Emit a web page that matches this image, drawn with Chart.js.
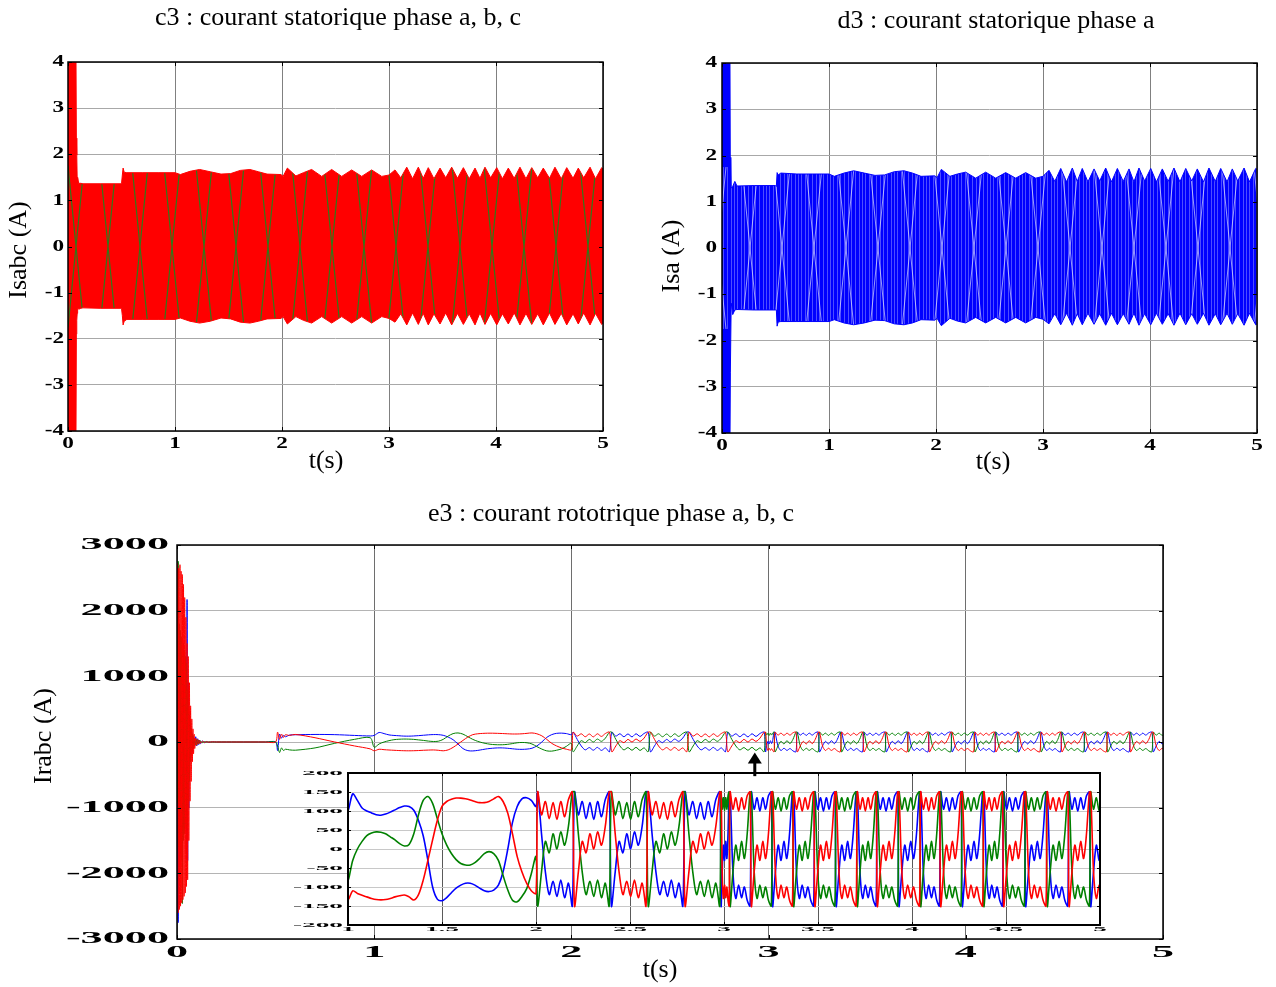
<!DOCTYPE html>
<html>
<head>
<meta charset="utf-8">
<title>Courants statoriques et rotoriques</title>
<script src="https://cdn.jsdelivr.net/npm/chart.js@4.4.1/dist/chart.umd.min.js"></script>
<style>
  html, body { margin: 0; padding: 0; background: #fff; overflow: hidden; }
  canvas { position: absolute; left: 0; top: 0; }
</style>
</head>
<body>
<canvas id="c3" width="1276" height="987"></canvas>
<canvas id="d3" width="1276" height="987"></canvas>
<canvas id="e3" width="1276" height="987"></canvas>
<canvas id="e3zoom" width="1276" height="987"></canvas>
<script>
const W = 1276, H = 987;
const SERIF = "'Liberation Serif', 'Times New Roman', serif";
Chart.defaults.font.family = SERIF;
Chart.defaults.color = '#000';

const BLUE = '#0000ff', GREEN = '#008000', RED = '#ff0000';

// ---- stator current: peak envelope of the dense 50 Hz band (A)
const tEnv = [
  0, 0.074, 0.078, 0.082, 0.086, 0.09, 0.1, 0.12, 0.14, 0.3,
  0.5, 0.508, 0.515, 0.525, 0.55, 0.7, 0.85, 1.0, 1.05, 1.14,
  1.23, 1.33, 1.43, 1.52, 1.61, 1.70, 1.78, 1.86, 1.99, 2.01,
  2.05, 2.13, 2.2, 2.277, 2.371, 2.464, 2.558, 2.651, 2.745, 2.838,
  2.932, 3.0, 3.056, 3.11, 3.166, 3.22, 3.274, 3.32, 3.367, 3.42,
  3.477, 3.53, 3.586, 3.64, 3.695, 3.75, 3.804, 3.85, 3.897, 3.95,
  4.007, 4.06, 4.115, 4.17, 4.224, 4.28, 4.334, 4.39, 4.442, 4.50,
  4.551, 4.61, 4.661, 4.72, 4.769, 4.82, 4.879, 4.93, 4.988, 5.0
];
// phases a, b, c together
const isabcTop = [
  4.5, 4.5, 2.35, 1.98, 1.44, 1.5, 1.37, 1.37, 1.36, 1.36,
  1.36, 1.55, 1.70, 1.61, 1.60, 1.60, 1.60, 1.60, 1.56, 1.63,
  1.67, 1.62, 1.57, 1.58, 1.65, 1.67, 1.62, 1.57, 1.56, 1.52,
  1.70, 1.53, 1.60, 1.67, 1.52, 1.67, 1.52, 1.66, 1.52, 1.66,
  1.52, 1.55, 1.66, 1.49, 1.72, 1.47, 1.72, 1.48, 1.71, 1.47,
  1.70, 1.49, 1.72, 1.48, 1.71, 1.47, 1.70, 1.48, 1.72, 1.49,
  1.71, 1.47, 1.70, 1.48, 1.72, 1.47, 1.71, 1.49, 1.70, 1.48,
  1.72, 1.47, 1.71, 1.48, 1.70, 1.49, 1.72, 1.47, 1.71, 1.68
];
const isabcBottom = [
  -4.5, -4.5, -1.9, -1.6, -1.45, -1.33, -1.36, -1.34, -1.33, -1.34,
  -1.34, -1.50, -1.70, -1.62, -1.58, -1.58, -1.58, -1.58, -1.55, -1.62,
  -1.66, -1.62, -1.55, -1.57, -1.64, -1.66, -1.62, -1.57, -1.56, -1.52,
  -1.68, -1.52, -1.60, -1.66, -1.52, -1.66, -1.52, -1.66, -1.52, -1.66,
  -1.52, -1.56, -1.64, -1.46, -1.70, -1.44, -1.69, -1.45, -1.70, -1.46,
  -1.68, -1.44, -1.70, -1.45, -1.69, -1.46, -1.70, -1.44, -1.69, -1.45,
  -1.70, -1.46, -1.68, -1.44, -1.70, -1.45, -1.69, -1.46, -1.70, -1.44,
  -1.69, -1.45, -1.70, -1.46, -1.68, -1.44, -1.70, -1.45, -1.69, -1.66
];
// phase a alone
const isaTop = [
  4.5, 4.5, 1.30, 1.96, 1.30, 1.31, 1.33, 1.44, 1.34, 1.35,
  1.35, 1.33, 1.63, 1.58, 1.62, 1.60, 1.60, 1.60, 1.55, 1.62,
  1.67, 1.62, 1.57, 1.58, 1.65, 1.67, 1.62, 1.55, 1.56, 1.52,
  1.70, 1.55, 1.60, 1.64, 1.51, 1.64, 1.51, 1.63, 1.51, 1.63,
  1.51, 1.55, 1.68, 1.44, 1.72, 1.43, 1.73, 1.44, 1.72, 1.43,
  1.71, 1.45, 1.73, 1.43, 1.72, 1.44, 1.71, 1.43, 1.73, 1.45,
  1.72, 1.43, 1.71, 1.44, 1.73, 1.43, 1.72, 1.45, 1.71, 1.43,
  1.73, 1.44, 1.72, 1.43, 1.71, 1.45, 1.73, 1.43, 1.72, 1.70
];
const isaBottom = [
  -4.5, -4.5, -2.7, -2.7, -1.2, -1.25, -1.44, -1.34, -1.33, -1.34,
  -1.34, -1.34, -1.69, -1.60, -1.59, -1.59, -1.59, -1.59, -1.55, -1.62,
  -1.66, -1.62, -1.56, -1.57, -1.64, -1.66, -1.62, -1.55, -1.56, -1.52,
  -1.68, -1.52, -1.58, -1.62, -1.50, -1.62, -1.50, -1.62, -1.50, -1.62,
  -1.50, -1.54, -1.64, -1.42, -1.66, -1.41, -1.67, -1.42, -1.66, -1.41,
  -1.65, -1.42, -1.67, -1.41, -1.66, -1.42, -1.65, -1.41, -1.67, -1.42,
  -1.66, -1.41, -1.65, -1.42, -1.67, -1.41, -1.66, -1.42, -1.65, -1.41,
  -1.67, -1.42, -1.66, -1.41, -1.65, -1.42, -1.67, -1.41, -1.66, -1.64
];
const statorYTicks = [4, 3, 2, 1, 0, -1, -2, -3, -4];
const statorXTicks = [0, 1, 2, 3, 4, 5];

// ---- rotor current (A): start-up burst
const tBurst = [
  0, 0.003, 0.006, 0.009, 0.012, 0.015, 0.018, 0.021, 0.024, 0.027,
  0.030, 0.033, 0.036, 0.039, 0.042, 0.045, 0.048, 0.051, 0.054, 0.057,
  0.060, 0.063, 0.066, 0.069, 0.072, 0.075, 0.078, 0.081, 0.084, 0.087,
  0.090, 0.095, 0.1, 0.105, 0.11, 0.115, 0.12, 0.13, 0.14, 0.15,
  0.16, 0.18, 0.2, 0.3, 0.45
];
const irABurst = [
  0, 600, -2750, 900, -1900, 1100, -1700, 1300, -1500, 1400,
  -1400, 1500, -1300, 1400, -1200, 1300, -1800, 2170, -1800, 900,
  -1000, 400, -300, 250, -200, 150, -150, 100, -90, 60,
  -50, 80, -60, 50, -40, 30, -25, 15, -10, 8,
  -5, 3, 0, 0, 0
];
const irBBurst = [
  0, -900, 2750, -1600, 1800, -1700, 1700, -1800, 1600, -2460,
  1500, -1500, 1400, -1400, 1300, -1300, 1200, -1300, 800, -900,
  500, -600, 350, -300, 200, -150, 120, -100, 80, -60,
  40, -50, 40, -35, 30, -20, 15, -10, 7, -4,
  2, -1, 0, 0, 0
];
const irCBurst = [
  0, 2700, -2600, 2650, -2550, 2700, -2500, 2600, -2450, 2550,
  -2400, 2400, -2350, 2200, -2300, 1900, -2200, 1500, -2100, 1300,
  -1500, 900, -900, 550, -600, 350, -300, 200, -180, 120,
  -100, 60, -50, 40, -30, 25, -18, 12, -8, 5,
  -3, 2, 0, 0, 0
];

// rotor current from the 0.5 s step up to 2 s
const tRotor = [
  0.5, 0.51, 0.52, 0.53, 0.54, 0.55, 0.57, 0.6, 0.7, 0.8, 0.9, 0.98,
  1.000, 1.025, 1.050, 1.075, 1.100, 1.125, 1.150, 1.175, 1.200, 1.225,
  1.250, 1.275, 1.300, 1.325, 1.350, 1.375, 1.400, 1.425, 1.450, 1.475,
  1.500, 1.525, 1.550, 1.575, 1.600, 1.625, 1.650, 1.675, 1.700, 1.725,
  1.750, 1.775, 1.800, 1.825, 1.850, 1.875, 1.900, 1.925, 1.950, 1.975, 2.000
];
const irA = [
  0, -130, 120, 60, 100, 80, 105, 110, 115, 112, 100, 92,
  100, 145, 128, 108, 100, 95, 90, 89, 92, 97,
  103, 109, 113, 112, 102, 75, 35, -30, -100, -132,
  -136, -128, -115, -103, -95, -90, -90, -95, -103, -110,
  -112, -108, -95, -60, 0, 70, 112, 132, 135, 128, 112
];
const irB = [
  0, -60, -160, -90, -130, -110, -120, -125, -90, -20, 40, 65,
  -80, -30, 0, 20, 35, 42, 45, 44, 40, 32,
  24, 14, 8, 12, 40, 90, 128, 138, 120, 80,
  40, 10, -12, -28, -38, -42, -42, -36, -25, -12,
  -7, -12, -30, -70, -108, -135, -139, -125, -105, -65, -20
];
const irC = [
  0, 150, 40, 120, 70, 110, 100, 115, 65, 0, -60, -105,
  -134, -110, -117, -122, -126, -130, -133, -134, -133, -130,
  -126, -123, -121, -126, -134, -120, -82, -30, 24, 75,
  112, 125, 131, 134, 134, 132, 129, 125, 122, 122,
  125, 132, 138, 125, 94, 40, -20, -60, -90, -110, -117
];

// after 2 s: instants where the three phases switch together
const rotorCuts = [
  2.003, 2.199, 2.395, 2.591, 2.787, 2.983, 3.029, 3.142, 3.255, 3.367,
  3.480, 3.593, 3.706, 3.812, 3.927, 4.043, 4.149, 4.264, 4.379, 4.484,
  4.601, 4.716, 4.832, 4.947, 5.06
];
const slowCount = 5; // first intervals (2 s .. 3 s) are the long ones
// wave shape between two switches: upper level, middle level, lower level
const slowTop    = [150, 90, 125, 80, 122, 78, 125, 85, 130, 150];
const slowMid    = [-150, -60, 20, -10, 40, 0, 45, 10, 60, 150];
const slowBottom = [150, 40, -60, -120, -85, -125, -82, -128, -90, -150];
const fastTop    = [150, 105, 135, 100, 135, 105, 140, 150];
const fastMid    = [-150, -60, 10, -30, 20, -25, 40, 150];
const fastBottom = [150, -60, -130, -95, -128, -100, -135, -150];

const rotorYTicks = [3000, 2000, 1000, 0, -1000, -2000, -3000];
const rotorXTicks = [0, 1, 2, 3, 4, 5];
const zoomYTicks = [200, 150, 100, 50, 0, -50, -100, -150, -200];
const zoomXTicks = [1, 1.5, 2, 2.5, 3, 3.5, 4, 4.5, 5];

function rotorPhase(burst, early, shift) {
  const pts = [];
  tBurst.forEach((t, i) => pts.push({x: t, y: burst[i]}));
  tRotor.forEach((t, i) => pts.push({x: t, y: early[i]}));
  for (let k = 0; k < rotorCuts.length - 1; k++) {
    const s = rotorCuts[k], e = rotorCuts[k + 1];
    const set = k < slowCount ? [slowTop, slowMid, slowBottom] : [fastTop, fastMid, fastBottom];
    const shape = set[(k + shift) % 3];
    shape.forEach((v, j) => {
      pts.push({x: s + (e - s) * (0.03 + 0.94 * j / (shape.length - 1)), y: v});
    });
  }
  return pts;
}
const rotorA = rotorPhase(irABurst, irA, 2);
const rotorB = rotorPhase(irBBurst, irB, 1);
const rotorC = rotorPhase(irCBurst, irC, 0);

// ---- plugins
const frameBox = {
  id: 'frameBox',
  afterDraw(chart, args, o) {
    const {ctx, chartArea: a, scales: {x, y}} = chart;
    const len = o.tick || 4;
    ctx.save();
    ctx.strokeStyle = '#000';
    ctx.lineWidth = 1;
    ctx.beginPath();
    x.ticks.forEach(t => {
      const px = Math.round(x.getPixelForValue(t.value)) + 0.5;
      ctx.moveTo(px, a.bottom); ctx.lineTo(px, a.bottom - len);
      ctx.moveTo(px, a.top); ctx.lineTo(px, a.top + len);
    });
    y.ticks.forEach(t => {
      const py = Math.round(y.getPixelForValue(t.value)) + 0.5;
      ctx.moveTo(a.left, py); ctx.lineTo(a.left + len, py);
      ctx.moveTo(a.right, py); ctx.lineTo(a.right - len, py);
    });
    ctx.stroke();
    ctx.lineWidth = o.width || 1.5;
    ctx.strokeRect(a.left, a.top, a.right - a.left, a.bottom - a.top);
    ctx.restore();
  }
};

function captions(items) {
  return {
    id: 'captions',
    afterDraw(chart) {
      const ctx = chart.ctx;
      ctx.save();
      ctx.fillStyle = '#000';
      ctx.textAlign = 'center';
      ctx.textBaseline = 'middle';
      items.forEach(it => {
        ctx.save();
        ctx.translate(it.x, it.y);
        if (it.rotate) ctx.rotate(it.rotate);
        ctx.font = '26px ' + SERIF;
        ctx.fillText(it.text, 0, 0);
        ctx.restore();
      });
      ctx.restore();
    }
  };
}

// bold tick numbers, stretched sideways
function wideLabels(spec) {
  return {
    id: 'wideLabels',
    afterDraw(chart) {
      const {ctx, scales: {x, y}} = chart;
      ctx.save();
      ctx.fillStyle = '#000';
      ctx.font = 'bold ' + spec.size + 'px ' + SERIF;
      ctx.textBaseline = 'middle';
      spec.yTicks.forEach(v => {
        ctx.save();
        ctx.translate(spec.yRight, y.getPixelForValue(v));
        ctx.scale(spec.stretch, 1);
        ctx.textAlign = 'right';
        ctx.fillText(String(v), 0, 0);
        ctx.restore();
      });
      spec.xTicks.forEach(v => {
        ctx.save();
        ctx.translate(x.getPixelForValue(v), spec.xRow);
        ctx.scale(spec.stretch, 1);
        ctx.textAlign = 'center';
        ctx.fillText(String(v), 0, 0);
        ctx.restore();
      });
      ctx.restore();
    }
  };
}

// texture of the dense oscillation inside the envelope band
function hatch(chart, key, paint) {
  if (!chart.chartArea) return 'rgba(0,0,0,0)';
  if (!chart[key]) {
    const tile = document.createElement('canvas');
    tile.width = 32; tile.height = chart.height;
    const y = chart.scales.y;
    paint(tile.getContext('2d'), tile.width, tile.height, y.getPixelForValue(1.75), y.getPixelForValue(-1.75));
    chart[key] = chart.ctx.createPattern(tile, 'repeat-x');
  }
  return chart[key];
}
function redBand(chart) {
  return hatch(chart, '$band', (g, w, h, t, b) => {
    g.fillStyle = RED; g.fillRect(0, 0, w, h);
    g.strokeStyle = '#2f7a1a'; g.lineWidth = 1.2;
    g.beginPath();
    g.moveTo(4, t); g.lineTo(20, b);
    g.moveTo(20, t); g.lineTo(4, b);
    g.stroke();
  });
}
function blueBand(chart) {
  return hatch(chart, '$band', (g, w, h, t, b) => {
    g.fillStyle = BLUE; g.fillRect(0, 0, w, h);
    g.fillStyle = 'rgba(255,255,255,0.3)';
    [1, 5, 8, 12, 16, 19, 23, 27, 30].forEach(x => g.fillRect(x, t, 1, b - t));
    g.strokeStyle = 'rgba(255,255,255,0.6)'; g.lineWidth = 1;
    g.beginPath();
    g.moveTo(6, t); g.lineTo(22, b);
    g.moveTo(22, t); g.lineTo(6, b);
    g.stroke();
  });
}

function axes(area, x, y) {
  const yw = 60, xh = 40;
  return {
    responsive: false, animation: false, events: [], parsing: false,
    layout: {padding: {left: area.l - yw, top: area.t, right: W - area.r, bottom: H - area.b - xh}},
    plugins: {legend: {display: false}, tooltip: {enabled: false}, frameBox: area.frame || {}},
    scales: {
      x: Object.assign({type: 'linear', border: {display: false},
        afterFit(s) { s.height = xh; }}, x),
      y: Object.assign({type: 'linear', border: {display: false},
        afterFit(s) { s.width = yw; }}, y)
    }
  };
}

function statorChart(id, area, top, bottom, band, edge, items, labels) {
  return new Chart(document.getElementById(id), {
    type: 'line',
    data: {datasets: [
      {data: tEnv.map((t, i) => ({x: t, y: top[i]})), borderColor: edge, borderWidth: 1,
       pointRadius: 0, fill: false},
      {data: tEnv.map((t, i) => ({x: t, y: bottom[i]})), borderColor: edge, borderWidth: 1,
       pointRadius: 0, fill: '-1', backgroundColor: c => band(c.chart)}
    ]},
    options: axes(area,
      {min: 0, max: 5, ticks: {stepSize: 1, display: false}, grid: {color: '#808080', drawTicks: false}},
      {min: -4, max: 4, ticks: {stepSize: 1, display: false}, grid: {color: '#a8a8a8', drawTicks: false}}),
    plugins: [frameBox, captions(items), wideLabels(labels)]
  });
}

statorChart('c3', {l: 68, r: 603, t: 62, b: 431}, isabcTop, isabcBottom, redBand, RED, [
  {text: 'c3 : courant statorique phase a, b, c', x: 338, y: 18},
  {text: 't(s)', x: 326, y: 461},
  {text: 'Isabc (A)', x: 19, y: 250, rotate: -Math.PI / 2}
], {size: 16, stretch: 1.45, yTicks: statorYTicks, xTicks: statorXTicks, yRight: 64, xRow: 444});
statorChart('d3', {l: 722, r: 1257, t: 63, b: 433}, isaTop, isaBottom, blueBand, BLUE, [
  {text: 'd3 : courant statorique phase a', x: 996, y: 21},
  {text: 't(s)', x: 993, y: 462},
  {text: 'Isa (A)', x: 672, y: 256, rotate: -Math.PI / 2}
], {size: 16, stretch: 1.45, yTicks: statorYTicks, xTicks: statorXTicks, yRight: 717, xRow: 446});

// the first dataset is painted last, so phase c (red) lies on top
function rotorSets(width) {
  return [
    {data: rotorC, borderColor: RED, borderWidth: width, pointRadius: 0, tension: 0.3},
    {data: rotorB, borderColor: GREEN, borderWidth: width, pointRadius: 0, tension: 0.3},
    {data: rotorA, borderColor: BLUE, borderWidth: width, pointRadius: 0, tension: 0.3}
  ];
}

const rotorChart = new Chart(document.getElementById('e3'), {
  type: 'line',
  data: {datasets: rotorSets(1)},
  options: axes({l: 177, r: 1163, t: 545, b: 939},
    {min: 0, max: 5, ticks: {stepSize: 1, display: false}, grid: {color: '#6e6e6e', drawTicks: false}},
    {min: -3000, max: 3000, ticks: {stepSize: 1000, display: false}, grid: {color: '#b4b4b4', drawTicks: false}}),
  plugins: [frameBox, captions([
    {text: 'e3 : courant rototrique phase a, b, c', x: 611, y: 514},
    {text: 't(s)', x: 660, y: 970},
    {text: 'Irabc (A)', x: 44, y: 736, rotate: -Math.PI / 2}
  ]), wideLabels({size: 17, stretch: 2.6, yTicks: rotorYTicks, xTicks: rotorXTicks, yRight: 169, xRow: 953})]
});

// zoom window on 1 s .. 5 s, with the pointer arrow above it
const whiteArea = {
  id: 'whiteArea',
  beforeDraw(chart) {
    const {ctx, chartArea: a} = chart;
    ctx.save();
    ctx.fillStyle = '#fff';
    ctx.fillRect(a.left, a.top, a.right - a.left, a.bottom - a.top);
    ctx.restore();
  },
  afterDraw(chart) {
    const {x, y} = rotorChart.scales;
    const ax = x.getPixelForValue(2.93), tip = y.getPixelForValue(-160), foot = y.getPixelForValue(-520);
    const ctx = chart.ctx;
    ctx.save();
    ctx.fillStyle = '#000';
    ctx.beginPath();
    ctx.moveTo(ax, tip); ctx.lineTo(ax + 7, tip + 11); ctx.lineTo(ax - 7, tip + 11);
    ctx.closePath(); ctx.fill();
    ctx.fillRect(ax - 1.5, tip + 10, 3, foot - tip - 10);
    ctx.restore();
  }
};

new Chart(document.getElementById('e3zoom'), {
  type: 'line',
  data: {datasets: rotorSets(1.6)},
  options: axes({l: 348, r: 1100, t: 773, b: 925, frame: {width: 2, tick: 3}},
    {min: 1, max: 5, ticks: {stepSize: 0.5, display: false}, grid: {color: '#5a5a5a', drawTicks: false}},
    {min: -200, max: 200, ticks: {stepSize: 50, display: false}, grid: {color: '#c8c8c8', drawTicks: false}}),
  plugins: [whiteArea, frameBox,
    wideLabels({size: 6.5, stretch: 4.2, yTicks: zoomYTicks, xTicks: zoomXTicks, yRight: 343, xRow: 929})]
});
</script>
</body>
</html>
